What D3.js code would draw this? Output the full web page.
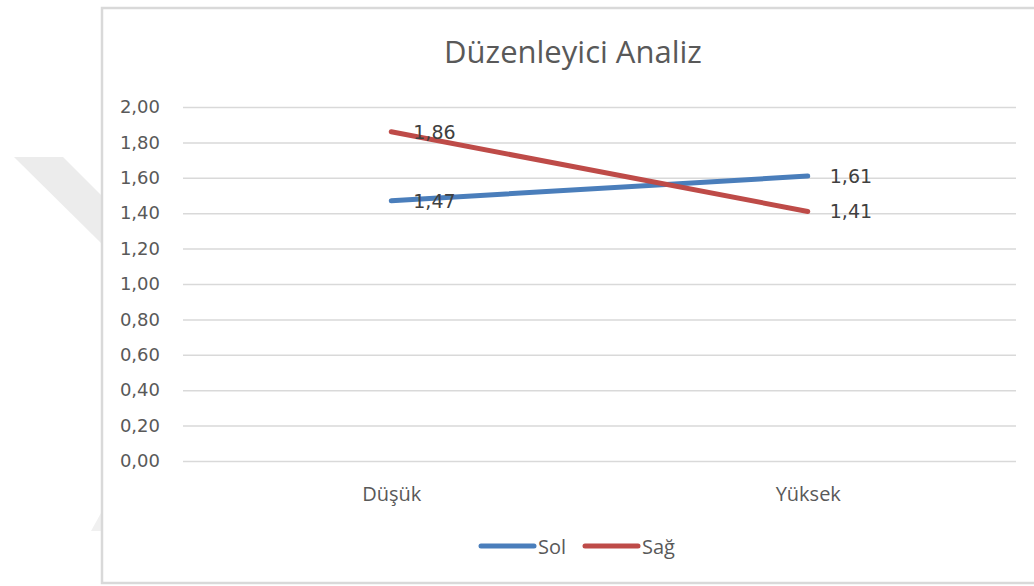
<!DOCTYPE html>
<html>
<head>
<meta charset="utf-8">
<script src="https://cdn.jsdelivr.net/npm/d3@7"></script>
<style>
  body { margin: 0; background: #fff; }
  svg { display: block; }
</style>
</head>
<body>
<div id="chart"></div>
<script>
// data
const categories = ["Düşük", "Yüksek"];
const seriesNames = ["Sol", "Sağ"];
const solValues = [1.47, 1.61];
const sagValues = [1.86, 1.41];
const yTicks = [0, 0.2, 0.4, 0.6, 0.8, 1.0, 1.2, 1.4, 1.6, 1.8, 2.0];
const title = "Düzenleyici Analiz";

const colors = { "Sol": "#4a7ebb", "Sağ": "#be4b48" };

const width = 1034, height = 586;
const plot = { left: 183, right: 1016, top: 107, bottom: 461 };

const trLocale = d3.formatLocale({ decimal: ",", thousands: ".", grouping: [3], currency: ["", " ₺"] });
const fmt = trLocale.format(".2f");

const series = [
  { name: seriesNames[0], values: solValues },
  { name: seriesNames[1], values: sagValues }
];

const svg = d3.select("#chart")
  .append("svg")
  .attr("width", width)
  .attr("height", height);

// faint watermark behind the chart frame
svg.append("polygon")
  .attr("points", "14,157 63,157 101,195 101,243")
  .attr("fill", "#ececec");
svg.append("polygon")
  .attr("points", "91,531 101,513 101,531")
  .attr("fill", "#f0f0f0");

// chart frame
svg.append("rect")
  .attr("x", 102)
  .attr("y", 8)
  .attr("width", 940)
  .attr("height", 575)
  .attr("fill", "#fff")
  .attr("stroke", "#d9d9d9")
  .attr("stroke-width", 2.5);

const x = d3.scalePoint()
  .domain(categories)
  .range([plot.left, plot.right])
  .padding(0.5);

const y = d3.scaleLinear()
  .domain([0, 2])
  .range([plot.bottom, plot.top]);

// y axis with gridlines
svg.append("g")
  .attr("transform", `translate(${plot.left},0)`)
  .call(d3.axisLeft(y)
    .tickValues(yTicks)
    .tickFormat(fmt)
    .tickSize(-(plot.right - plot.left))
    .tickPadding(23))
  .call(g => g.select(".domain").remove())
  .call(g => g.selectAll(".tick line")
    .attr("stroke", "#d9d9d9")
    .attr("stroke-width", 1.5))
  .call(g => g.selectAll(".tick text")
    .attr("fill", "#595959")
    .attr("font-family", "DejaVu Sans")
    .attr("font-size", 18));

// category labels
svg.append("g")
  .attr("transform", `translate(0,${plot.bottom})`)
  .call(d3.axisBottom(x).tickSize(0).tickPadding(0))
  .call(g => g.select(".domain").remove())
  .call(g => g.selectAll(".tick text")
    .attr("y", 40)
    .attr("dy", 0)
    .attr("fill", "#595959")
    .attr("font-family", "Open Sans")
    .attr("font-size", 20));

// title
svg.append("text")
  .attr("x", 573)
  .attr("y", 63)
  .attr("text-anchor", "middle")
  .attr("fill", "#595959")
  .attr("font-family", "Open Sans")
  .attr("font-size", 31)
  .text(title);

const line = d3.line()
  .x((d, i) => x(categories[i]))
  .y(d => y(d));

const seriesG = svg.append("g")
  .selectAll("g")
  .data(series)
  .join("g");

seriesG.append("path")
  .attr("d", d => line(d.values))
  .attr("fill", "none")
  .attr("stroke", d => colors[d.name])
  .attr("stroke-width", 5)
  .attr("stroke-linecap", "round");

// data labels, right of each point
seriesG.selectAll("text")
  .data(d => d.values)
  .join("text")
    .attr("x", (d, i) => x(categories[i]) + 22)
    .attr("y", d => y(d))
    .attr("dy", "0.36em")
    .attr("fill", "#404040")
    .attr("font-family", "DejaVu Sans")
    .attr("font-size", 19)
    .text(d => fmt(d));

// legend
const legend = svg.append("g")
  .selectAll("g")
  .data(series)
  .join("g")
    .attr("transform", (d, i) => `translate(${481 + i * 104},546)`);

legend.append("line")
  .attr("x1", 0)
  .attr("x2", 53)
  .attr("stroke", d => colors[d.name])
  .attr("stroke-width", 5)
  .attr("stroke-linecap", "round");

legend.append("text")
  .attr("x", 57)
  .attr("y", 8)
  .attr("fill", "#595959")
  .attr("font-family", "Open Sans")
  .attr("font-size", 20)
  .text(d => d.name);
</script>
</body>
</html>
